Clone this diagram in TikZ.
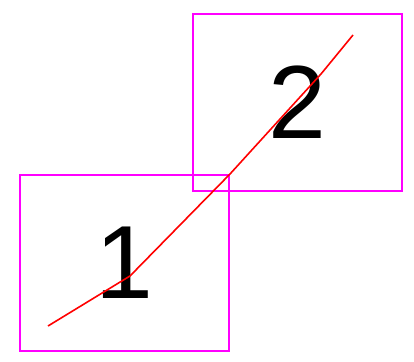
\documentclass[tikz,border=0pt]{standalone}
\usepackage{fontspec}
\setmainfont{Liberation Sans}
\usetikzlibrary{positioning}
\definecolor{boxpink}{RGB}{255,0,255}
\definecolor{tracered}{RGB}{255,0,0}
\tikzset{
  cell/.style  = {draw=boxpink, line width=2pt, minimum width=209pt, minimum height=176pt,
                  inner sep=0pt, font=\fontsize{104}{104}\selectfont},
  trace/.style = {tracered, line width=1.6pt, line join=round},
}

\begin{document}
\begin{tikzpicture}[x=1pt,y=-1pt]
  \useasboundingbox (0,0) rectangle (414,361);
  \node[cell] (one) at (124.5,263) {1};
  \node[cell] (two) at (297,102.5) {2};
  \coordinate (start) at (48,326);
  \coordinate (bend) at (130,276);
  \coordinate (kink) at (321,74);
  \coordinate (stop) at (353,35);
  \draw[trace] (start) -- (bend) -- (one.north east) -- (kink) -- (stop);
\end{tikzpicture}
\end{document}
